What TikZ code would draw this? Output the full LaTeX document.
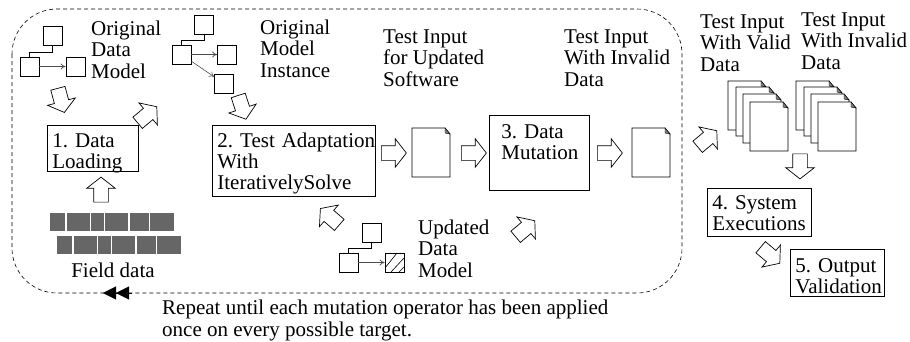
\documentclass[tikz,border=0pt]{standalone}
\usepackage{fontspec}
\setmainfont{Liberation Serif}
\usetikzlibrary{arrows.meta}
\usetikzlibrary{shapes.arrows}

\tikzset{
  lbl/.style={anchor=base west,align=left,inner sep=0pt,font=\frenchspacing\fontsize{21}{21.5}\selectfont},
  procbox/.style={draw,anchor=north west,align=left,inner xsep=5pt,inner ysep=0pt,line width=0.8pt,font=\frenchspacing\fontsize{21}{21}\selectfont},
  mbox/.style={draw,minimum size=19pt,inner sep=0pt,line width=0.7pt},
  bigarrow/.style={draw,single arrow,minimum height=25pt,inner xsep=0pt,inner ysep=7pt,
    single arrow head extend=7pt,single arrow tip angle=104,line width=0.7pt},
  linkline/.style={line width=0.7pt},
  linkarrow/.style={-{To[length=5pt,width=6pt]},line width=0.6pt,black!70},
  pagesheet/.style={draw,fill=white,line width=0.8pt},
  pageear/.style={draw,fill=black!50,line width=0.4pt}
}

\begin{document}
\begin{tikzpicture}[x=1pt,y=-1pt]
    \useasboundingbox (0,0) rectangle (910,341);

    % dashed loop
    \draw[dashed,dash pattern=on 4pt off 3pt,line width=0.6pt,rounded corners=45pt] (12,9) rectangle (682,293);
    \coordinate (loopa) at (132,293);
    \coordinate (loopb) at (103,293);
    \draw[-{Triangle[length=13pt,width=13pt]Triangle[length=13pt,width=13pt]}] (loopa) -- (loopb);

    % original data model
    \node[mbox] (dma) at (52.5,36) {};
    \node[mbox] (dmb) at (29.5,66.5) {};
    \node[mbox] (dmc) at (75.5,66.5) {};
    \draw[linkline] (dma.south) -- ++(0,6) -| (dmb.north);
    \draw[linkarrow] (dmb) -- (dmc);
    \node[lbl] (dmtext) at (91,78) {Original\\Data\\Model};

    % original model instance
    \node[mbox] (ina) at (204,24.5) {};
    \node[mbox] (inb) at (181.5,54.5) {};
    \node[mbox] (inc) at (227,54.5) {};
    \node[mbox] (ind) at (224,83.5) {};
    \draw[linkline] (ina.south) -- ++(0,6) -| (inb.north);
    \draw[linkarrow] (inb) -- (inc);
    \draw[linkarrow] (inb) -- (ind);
    \node[lbl] (intext) at (260,77) {Original\\Model\\Instance};

    % updated data model
    \node[mbox] (upa) at (371.5,232.5) {};
    \node[mbox] (upb) at (348.5,262.5) {};
    \node[mbox] (upc) at (394.5,262.5) {};
    \draw[linkline] (upa.south) -- ++(0,6) -| (upb.north);
    \draw[linkarrow] (upb) -- (upc);
    \draw[line width=0.6pt] (385,268) -- (397,253);
    \draw[line width=0.6pt] (391,272) -- (404,258);
    \draw[line width=0.6pt] (399,272) -- (404,267);
    \node[lbl] (uptext) at (418,277) {Updated\\Data\\Model};

    % process steps
    \node[procbox,text width=81pt,text height=22pt,text depth=24pt] (load) at (47,125) {1. Data\\Loading};
    \node[procbox,text width=153pt,text height=22pt,text depth=49pt] (adapt) at (212,125) {\mbox{2. Test Adaptation}\\With\\\mbox{IterativelySolve}};
    \node[procbox,inner xsep=12pt,text width=76pt,text height=23pt,text depth=52pt] (mutate) at (489,115) {3. Data\\Mutation};
    \node[procbox,text width=94pt,text height=21pt,text depth=27pt] (exec) at (707,188) {4. System\\\mbox{Executions}};
    \node[procbox,text width=84pt,text height=23pt,text depth=24pt] (check) at (790,249) {5. Output\\\mbox{Validation}};

    % other labels
    \node[lbl] (inputa) at (383,86) {Test Input\\for Updated\\Software};
    \node[lbl] (inputb) at (564,86) {Test Input\\With Invalid\\Data};
    \node[lbl] (inputc) at (700,71) {Test Input\\With Valid\\Data};
    \node[lbl] (inputd) at (801,69) {Test Input\\With Invalid\\Data};
    \node[lbl,anchor=base] (field) at (113,277) {Field data};
    \node[lbl] (repeat) at (162,336) {Repeat until each mutation operator has been applied\\once on every possible target.};

    % field data blocks
    \foreach \dy in {0,1} {
        \foreach \xa/\xb in {50/65.3,66.7/90,91/104,105/128.3,129.7/149,150.3/174}
            \fill[black!60] (\xa+7*\dy,213+23*\dy) rectangle (\xb+7*\dy,231+23*\dy);
    }

    % single pages and stacks
    \foreach \x/\y in {412/128,632/128,728/81,736/87,743/94,750/102,796/81,804/87,811/94,818/102} {
        \draw[pagesheet] (\x,\y) -- (\x+33,\y) -- (\x+38,\y+6) -- (\x+38,\y+49) -- (\x,\y+49) -- cycle;
        \draw[pageear] (\x+33,\y) -- (\x+38,\y+6) -- (\x+33,\y+5) -- cycle;
    }

    % hollow arrows
    \node[bigarrow,rotate=-75] (ara) at (60.4,97.6) {};
    \node[bigarrow,rotate=40] (arb) at (145,116.6) {};
    \node[bigarrow,rotate=-72] (arc) at (241.2,104.6) {};
    \node[bigarrow,rotate=90] (ard) at (101,192.5) {};
    \node[bigarrow] (are) at (391,153) {};
    \node[bigarrow] (arf) at (471,153) {};
    \node[bigarrow] (arg) at (607,153) {};
    \node[bigarrow,rotate=40] (arh) at (705,140.6) {};
    \node[bigarrow,rotate=-90] (ari) at (800,163.5) {};
    \node[bigarrow,rotate=-40] (arj) at (768,253.4) {};
    \node[bigarrow,rotate=139] (ark) at (332,218.6) {};
    \node[bigarrow,rotate=40] (arl) at (523,230.6) {};
\end{tikzpicture}
\end{document}
